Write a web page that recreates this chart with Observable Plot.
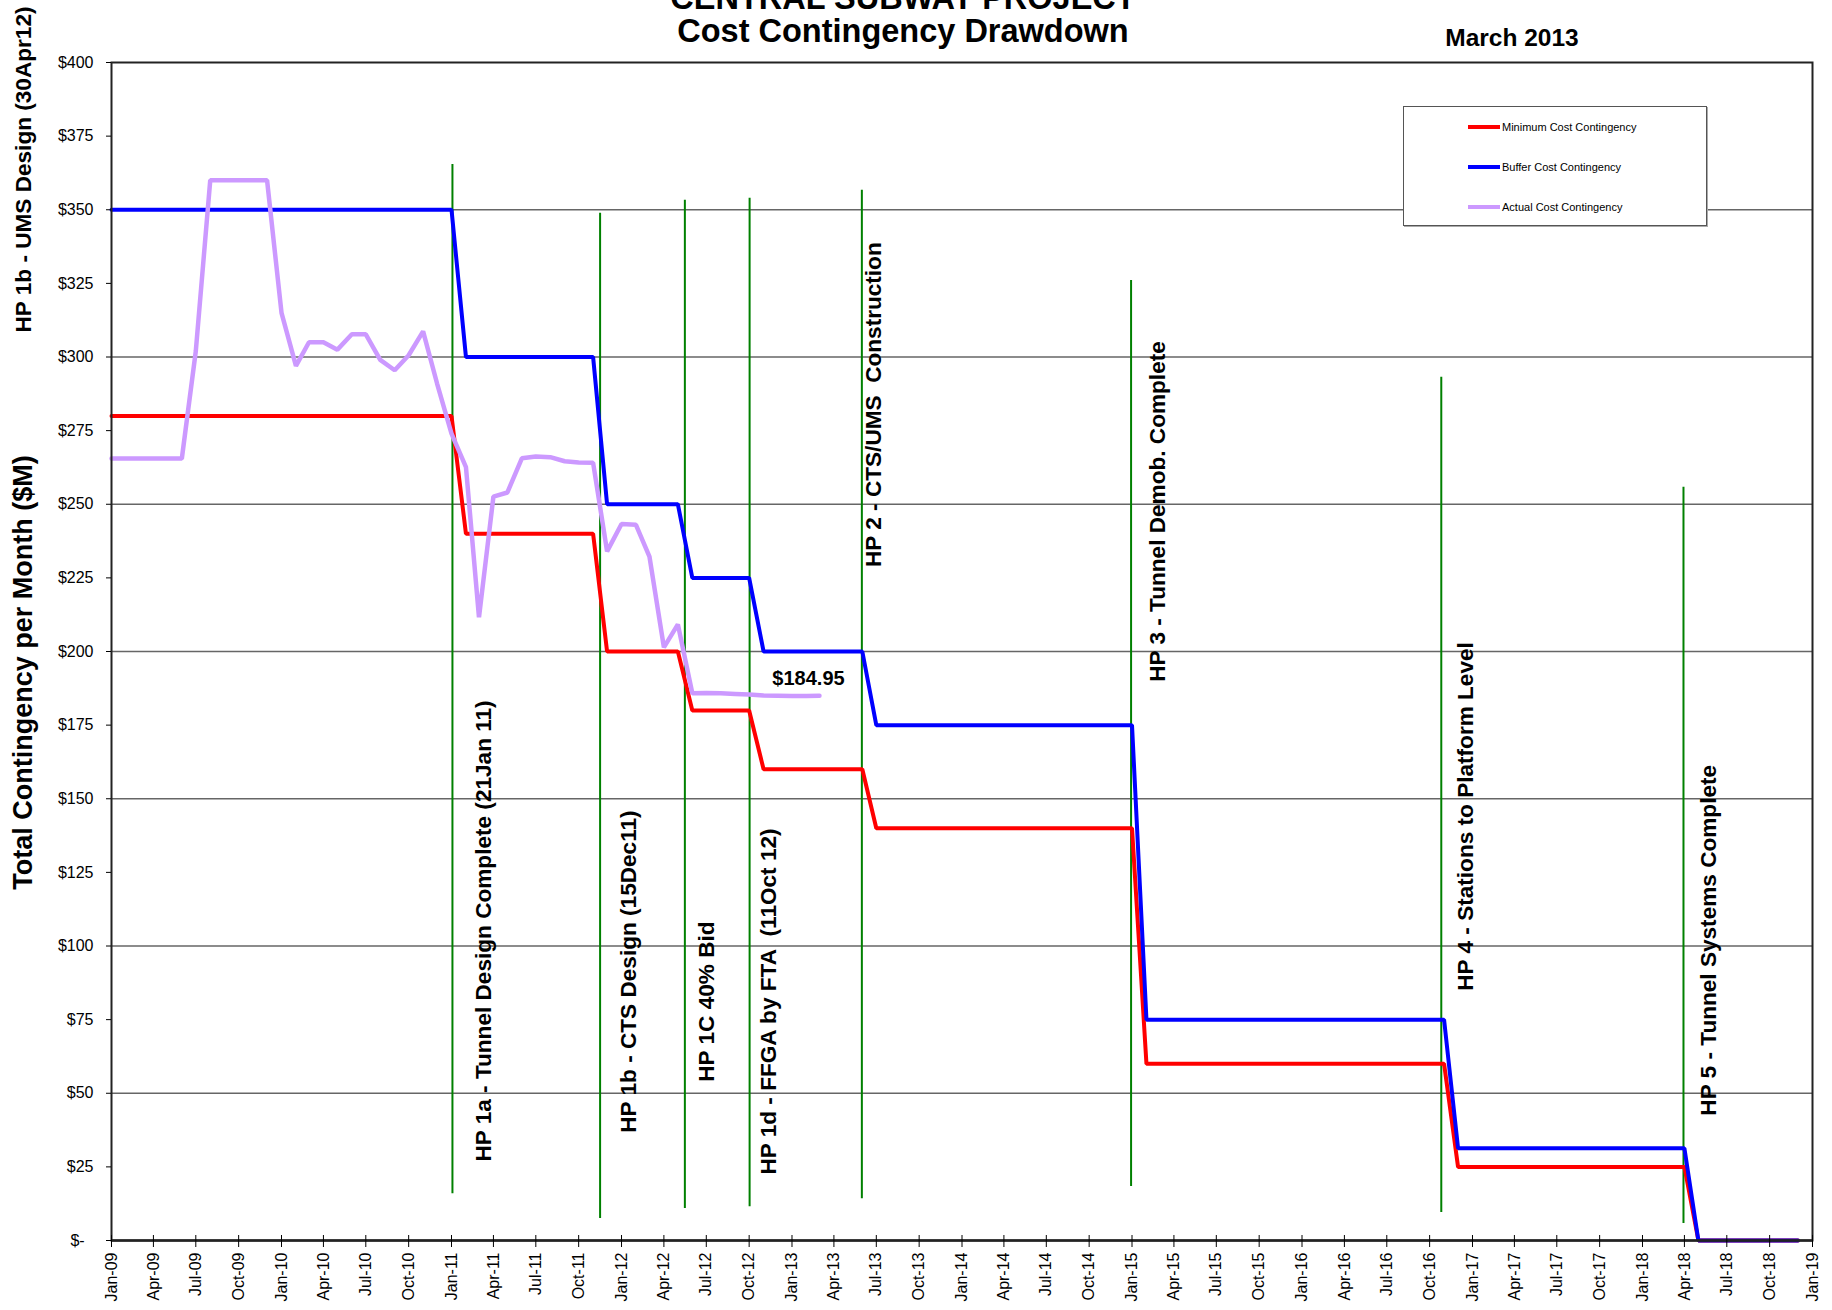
<!DOCTYPE html>
<html>
<head>
<meta charset="utf-8">
<script src="https://cdn.jsdelivr.net/npm/d3@7"></script>
<script src="https://cdn.jsdelivr.net/npm/@observablehq/plot@0.6"></script>
<style>
  body { margin: 0; background: #fff; }
  #wrap { position: relative; width: 1832px; height: 1310px; overflow: hidden; font-family: "Liberation Sans", Arial, sans-serif; color: #000; }
  #chart { position: absolute; left: 0; top: 0; }
  #title { position: absolute; left: 903px; top: -18px; transform: translateX(-50%); font-weight: bold; font-size: 32.5px; line-height: 33px; text-align: center; white-space: nowrap; }
  #date { position: absolute; left: 1512px; top: 25px; transform: translateX(-50%); font-weight: bold; font-size: 24.5px; line-height: 25px; white-space: nowrap; }
  #legend { position: absolute; left: 1403px; top: 106px; width: 304px; height: 120px; border: 1.5px solid #555; box-shadow: 1px 1px 0 #aaa; background: #fff; box-sizing: border-box; }
  .item { position: absolute; left: 64px; height: 14px; display: flex; align-items: center; font-size: 11px; white-space: nowrap; }
  .swatch { width: 32px; height: 4px; margin-right: 2px; }
</style>
</head>
<body>
<div id="wrap">
  <div id="chart"></div>
  <div id="title">CENTRAL SUBWAY PROJECT<br>Cost Contingency Drawdown</div>
  <div id="date">March 2013</div>
  <div id="legend"></div>
</div>
<script>
// ---------- data ----------
const seriesNames = ["Minimum Cost Contingency", "Buffer Cost Contingency", "Actual Cost Contingency"];
const seriesColors = ["#ff0000", "#0000ff", "#cc99ff"];

// step series (Minimum / Buffer), $M
const stepDates = ["2009-01-01","2011-01-01","2011-02-01","2011-11-01","2011-12-01","2012-05-01","2012-06-01","2012-10-01","2012-11-01","2013-06-01","2013-07-01","2015-01-01","2015-02-01","2016-11-01","2016-12-01","2018-04-01","2018-05-01","2018-12-01"];
const minimumValues = [280,280,240,240,200,200,180,180,160,160,140,140,60,60,25,25,0,0];
const bufferValues  = [350,350,300,300,250,250,225,225,200,200,175,175,75,75,31.3,31.3,0,0];

// actual, monthly Jan-09 .. Mar-13, $M
const actualStart = "2009-01-01";
const actualEnd = "2013-04-01";
const actualValues = [265.5,265.5,265.5,265.5,265.5,265.5,302,360,360,360,360,360,
  315,297,305,305,302.5,307.7,307.7,299,295.5,300.6,308.7,291,
  274,262.6,211.6,252.6,254,265.6,266.2,266,264.6,264.2,264.1,234,
  243.3,243,232.2,201.4,209.2,185.8,185.9,185.8,185.6,185.4,185.1,185.0,
  184.9,184.9,184.95];

// milestones
const milestoneLabels = [
  "HP 1a - Tunnel Design Complete (21Jan 11)",
  "HP 1b - CTS Design (15Dec11)",
  "HP 1C 40% Bid",
  "HP 1d - FFGA by FTA\u00a0 (11Oct 12)",
  "HP 2 - CTS/UMS\u00a0 Construction",
  "HP 3 - Tunnel Demob. Complete",
  "HP 4 - Stations to Platform Level",
  "HP 5 - Tunnel Systems Complete"
];
const milestoneDates = ["2011-01-03","2011-11-16","2012-05-16","2012-10-02","2013-05-31","2014-12-30","2016-10-26","2018-03-30"];
const milestoneTop = [365.4,348.8,353.2,353.9,356.6,326.0,293.1,255.8];
const milestoneBottom = [15.9,7.5,10.9,11.5,14.2,18.3,9.5,5.8];
const milestoneLabelBase = [26.8,36.6,53.9,22.4,228.7,189.7,84.8,42.4];

const sideLabel = "HP 1b - UMS Design (30Apr12)";
const yTitle = "Total Contingency per Month ($M)";
const yTicks = [0,25,50,75,100,125,150,175,200,225,250,275,300,325,350,375,400];
const yGrid = [50,100,150,200,250,300,350];
const xDomain = ["2009-01-01", "2019-01-01"];

// ---------- build ----------
const parse = d3.utcParse("%Y-%m-%d");
const minimum = stepDates.map((d, i) => ({date: parse(d), value: minimumValues[i]}));
const buffer = stepDates.map((d, i) => ({date: parse(d), value: bufferValues[i]}));
const actualMonths = d3.utcMonth.range(parse(actualStart), parse(actualEnd));
const actual = actualMonths.map((d, i) => ({date: d, value: actualValues[i]}));
const milestones = milestoneDates.map((d, i) => ({date: parse(d), top: milestoneTop[i], bottom: milestoneBottom[i], base: milestoneLabelBase[i], label: milestoneLabels[i]}));
const lastActual = actual[actual.length - 1];

const labelDx = [31, 29, 22, 19, 12, 27, 24, 25];
const font = "'Liberation Sans', Arial, sans-serif";

const chart = Plot.plot({
  width: 1832,
  height: 1310,
  marginLeft: 111,
  marginRight: 20,
  marginTop: 62,
  marginBottom: 70,
  style: {fontFamily: font, fontSize: "15px", background: "white", color: "black", overflow: "visible"},
  x: {type: "utc", domain: xDomain.map(parse)},
  y: {domain: [0, 400]},
  marks: [
    Plot.gridY(yGrid, {stroke: "#666", strokeOpacity: 1, strokeWidth: 1.5}),
    Plot.ruleX(milestones, {x: "date", y1: "top", y2: "bottom", stroke: "#008000", strokeWidth: 2}),
    Plot.line(minimum, {x: "date", y: "value", stroke: seriesColors[0], strokeWidth: 4, strokeLinejoin: "miter"}),
    Plot.line(buffer, {x: "date", y: "value", stroke: seriesColors[1], strokeWidth: 4, strokeLinejoin: "miter"}),
    Plot.line(actual, {x: "date", y: "value", stroke: seriesColors[2], strokeWidth: 4.5, strokeLinejoin: "miter"}),
    Plot.frame({stroke: "#222", strokeWidth: 2}),
    Plot.ruleY([0], {stroke: "#222", strokeWidth: 2.5}),
    Plot.axisY({ticks: yTicks, tickFormat: d => d === 0 ? "$-\u00a0\u00a0" : "$" + d, tickSize: 5, tickPadding: 13, fontSize: 16, label: null}),
    Plot.axisX({ticks: d3.utcMonth.every(3), tickFormat: d3.utcFormat("%b-%y"), tickRotate: -90, tickSize: 12, dy: -5, tickPadding: 5, fontSize: 16, label: null}),
    ...milestones.map((m, i) => Plot.text([m], {x: "date", y: "base", text: "label", rotate: -90, textAnchor: "start", dx: labelDx[i], fontSize: 22.6, fontWeight: "bold"})),
    Plot.text([lastActual], {x: "date", y: "value", text: d => "$" + d3.format(".2f")(d.value), dx: -11, dy: -17, fontSize: 20, fontWeight: "bold"}),
    Plot.text([yTitle], {frameAnchor: "left", textAnchor: "middle", lineAnchor: "middle", rotate: -90, dx: -88, dy: 21, fontSize: 27, fontWeight: "bold"}),
    Plot.text([sideLabel], {frameAnchor: "top-left", rotate: -90, textAnchor: "end", lineAnchor: "middle", dx: -88, dy: -56, fontSize: 22.6, fontWeight: "bold"})
  ]
});
document.getElementById("chart").appendChild(chart);

// legend
const legend = document.getElementById("legend");
const itemTops = [13, 53, 93];
seriesNames.forEach((name, i) => {
  const item = document.createElement("div");
  item.className = "item";
  item.style.top = itemTops[i] + "px";
  const sw = document.createElement("span");
  sw.className = "swatch";
  sw.style.background = seriesColors[i];
  const tx = document.createElement("span");
  tx.textContent = name;
  item.appendChild(sw);
  item.appendChild(tx);
  legend.appendChild(item);
});
</script>
</body>
</html>
